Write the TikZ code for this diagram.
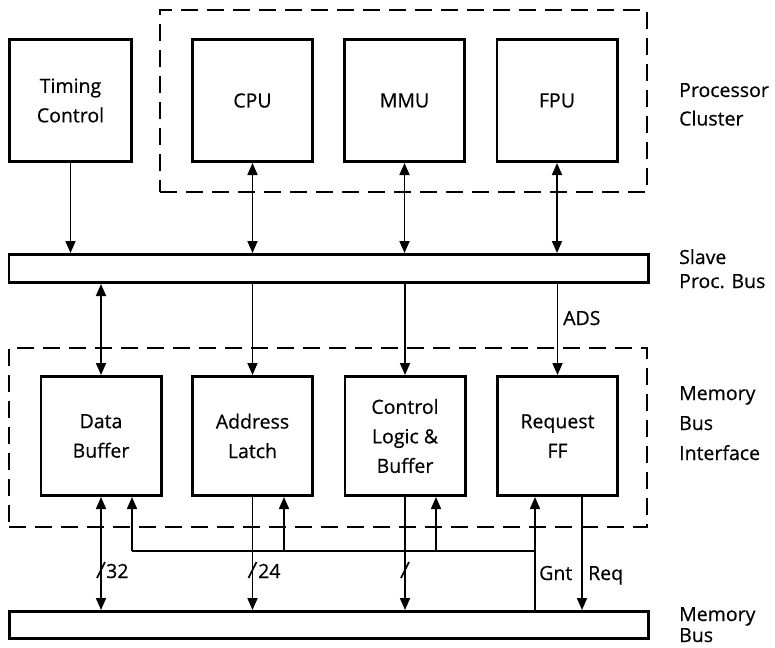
\documentclass[tikz,border=0pt]{standalone}
\usepackage{fontspec}
\setmainfont{Open Sans}[FakeBold=0.5]
\usetikzlibrary{arrows.meta,calc}
\begin{document}
\begin{tikzpicture}[x=1pt,y=-1pt,
  lbl/.style={font=\fontsize{19.5pt}{29.5pt}\selectfont, inner sep=0pt},
  unit/.style={lbl, draw, line width=2.8pt, align=center, minimum width=120.2pt, minimum height=119.2pt},
  bus/.style={draw, line width=2.8pt, inner sep=0pt, minimum width=639.2pt, minimum height=28.2pt},
  frame/.style={draw, line width=1.8pt, dash pattern=on 17pt off 9pt, inner sep=0pt},
  tip/.tip={Triangle[length=12pt,width=10pt]},
  link/.style={line width=1.7pt, -tip},
  duplex/.style={line width=1.7pt, tip-tip},
  wire/.style={line width=1.7pt},
  side/.style={lbl, anchor=base west},
]
\useasboundingbox (0,0) rectangle (775,647);

% dashed groupings
\node[frame, minimum width=487pt, minimum height=182pt] (cluster) at (403.5,101) {};
\node[frame, minimum width=638pt, minimum height=179pt] (mbi) at (328,437.5) {};

% processor side
\node[unit, minimum width=122.2pt, minimum height=122.2pt] (timing) at (70.5,100.5) {Timing\\Control};
\node[unit, minimum height=122.2pt] (cpu) at (252.5,100.5) {CPU};
\node[unit, minimum height=122.2pt] (mmu) at (404.5,100.5) {MMU};
\node[unit, minimum height=122.2pt] (fpu) at (557,100.5) {FPU};

% buses
\node[bus] (sbus) at (328.5,268.5) {};
\node[bus, minimum height=27.2pt] (mbus) at (329,625) {};

% memory bus interface
\node[unit] (data) at (101,436) {Data\\Buffer};
\node[unit] (addr) at (252.5,436) {Address\\Latch};
\node[unit] (ctrl) at (405,436) {Control\\Logic \&\\Buffer};
\node[unit] (req) at (557.5,436) {Request\\FF};

% side captions
\node[side] (pc1) at (679,97) {Processor};
\node[side] (pc2) at (679,125.5) {Cluster};
\node[side] (sp1) at (679,264) {Slave};
\node[side] (sp2) at (679,288) {Proc. Bus};
\node[side] (mi1) at (679,400) {Memory};
\node[side] (mi2) at (679,430) {Bus};
\node[side] (mi3) at (679,460) {Interface};
\node[side] (mb1) at (679,621) {Memory};
\node[side] (mb2) at (679,642) {Bus};

% processor cluster to slave bus
\draw[link] (timing.south) -- (timing.south |- sbus.north);
\draw[duplex] (cpu.south) -- (cpu.south |- sbus.north);
\draw[duplex] (mmu.south) -- (mmu.south |- sbus.north);
\draw[duplex] (fpu.south) -- (fpu.south |- sbus.north);

% slave bus to interface
\draw[duplex] (data.north |- sbus.south) -- (data.north);
\draw[link] (addr.north |- sbus.south) -- (addr.north);
\draw[link] (ctrl.north |- sbus.south) -- (ctrl.north);
\draw[link] (req.north |- sbus.south) -- (req.north);
\node[side] (ads) at (563,325) {ADS};

% interface to memory bus
\coordinate (reqx) at (582,551);
\coordinate (gntj) at (535,551);
\coordinate (tapd) at (132,551);
\coordinate (tapa) at (284,551);
\coordinate (tapc) at (436,551);

\draw[duplex] (data.south) -- (data.south |- mbus.north);
\draw[link] (addr.south) -- (addr.south |- mbus.north);
\draw[link] (ctrl.south) -- (ctrl.south |- mbus.north);
\draw[link] (reqx |- req.south) -- (reqx |- mbus.north);
\draw[link] (gntj |- mbus.north) -- (gntj |- req.south);

% grant fan-out
\draw[wire] (tapd) -- (gntj);
\draw[link] (tapd) -- (tapd |- data.south);
\draw[link] (tapa) -- (tapa |- addr.south);
\draw[link] (tapc) -- (tapc |- ctrl.south);

% bus width marks
\foreach \bx in {101,252.5,405}
  \draw[wire] (\bx-4,578) -- (\bx+4,562);
\node[side] (w32) at (106,578) {32};
\node[side] (w24) at (258,578) {24};
\node[side] (gnt) at (539,580) {Gnt};
\node[side] (rq) at (588,580) {Req};
\end{tikzpicture}
\end{document}
